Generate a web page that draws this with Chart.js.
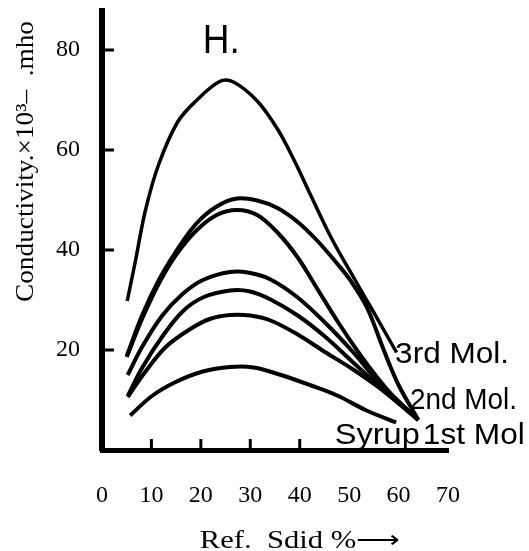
<!DOCTYPE html>
<html><head><meta charset="utf-8">
<script src="https://cdn.jsdelivr.net/npm/chart.js@4"></script>
<style>html,body{margin:0;padding:0;background:#fff}#wrap{width:529px;height:551px}</style>
</head><body><div id="wrap"><canvas id="c" width="529" height="551"></canvas></div>
<script>
// ---- data ----
const xTickValues = [0, 10, 20, 30, 40, 50, 60, 70];
const yTickValues = [20, 40, 60, 80];
const seriesNames = ['3rd Mol. (a)', '3rd Mol. (b)', '2nd Mol. (a)', '2nd Mol. (b)', '1st Mol. (a)', '1st Mol. (b)', 'Syrup'];

const c1x = [5.1, 6.7, 8.8, 11.5, 15.3, 19.0, 23.8, 26.6, 31.4, 35.5, 38.9, 42.3, 46.4, 51.2, 54.7, 59.6];
const c1y = [29.8, 37.5, 48.0, 57.2, 65.6, 69.8, 73.7, 73.6, 69.8, 64.2, 57.9, 50.8, 42.4, 34.0, 28.0, 19.5];

const c2x = [5.0, 8.1, 11.5, 14.9, 19.0, 23.2, 27.3, 31.4, 35.5, 39.6, 43.7, 47.8, 50.2, 53.6, 57.0, 60.0, 64.0];
const c2y = [18.8, 26.9, 34.0, 39.6, 45.2, 48.7, 50.3, 49.9, 48.4, 45.6, 41.7, 37.0, 34.0, 28.5, 20.0, 13.0, 6.0];

const c3x = [5.0, 8.1, 11.5, 14.9, 19.0, 23.2, 27.3, 31.4, 35.5, 39.6, 43.7, 47.8, 51.9, 55.3, 59.1, 64.0];
const c3y = [18.6, 26.2, 33.3, 38.9, 43.8, 47.0, 48.0, 47.0, 43.5, 38.5, 32.0, 25.5, 19.5, 15.0, 10.5, 6.0];

const c4x = [5.2, 8.1, 12.2, 16.3, 20.4, 25.9, 30.0, 34.1, 39.6, 45.1, 50.5, 56.0, 64.0];
const c4y = [15.0, 20.6, 26.9, 31.2, 34.0, 35.6, 35.4, 34.1, 30.5, 25.5, 19.9, 13.6, 6.0];

const c5x = [5.2, 8.1, 12.2, 16.3, 20.4, 25.9, 30.0, 34.1, 39.6, 45.1, 50.5, 56.0, 64.0];
const c5y = [10.8, 16.4, 22.7, 27.7, 30.5, 31.9, 31.7, 30.1, 26.9, 22.7, 17.8, 12.9, 6.0];

const c6x = [5.2, 8.8, 12.9, 17.7, 21.8, 25.9, 30.0, 34.1, 39.6, 45.1, 50.5, 56.0, 64.0];
const c6y = [10.6, 15.7, 20.6, 24.1, 26.2, 27.0, 26.9, 25.9, 23.1, 19.6, 16.3, 12.5, 6.0];

const c7x = [5.7, 10.1, 14.9, 20.4, 25.9, 30.7, 36.2, 42.3, 47.8, 53.3, 59.5];
const c7y = [6.9, 10.8, 13.6, 15.7, 16.6, 16.5, 15.0, 12.9, 10.8, 8.0, 5.5];

// ---- texts placed in value coordinates ----
const notes = [
  {text: 'H.',       x: 20.4, y: 79.4, w: 37},
  {text: '3rd Mol.', x: 59.3, y: 17.4, w: 114},
  {text: '2nd Mol.', x: 62.3, y: 8.2,  w: 107},
  {text: 'Syrup',    x: 47.1, y: 1.2,  w: 85},
  {text: '1st Mol',  x: 64.9, y: 1.2,  w: 102}
];
const yTitle = 'Conductivity.×10³–  .mho';
const xTitle = 'Ref.  Sdid %⟶';

const curvesX = [c1x, c2x, c3x, c4x, c5x, c6x, c7x];
const curvesY = [c1y, c2y, c3y, c4y, c5y, c6y, c7y];

function fitText(ctx, text, x, y, w) {
  const m = ctx.measureText(text).width;
  ctx.save();
  ctx.translate(x, y);
  ctx.scale(w / m, 1);
  ctx.fillText(text, 0, 0);
  ctx.restore();
}

const decor = {
  id: 'decor',
  afterDraw(chart) {
    const {ctx, chartArea: ca, scales: {x, y}} = chart;
    ctx.save();
    ctx.fillStyle = '#000';
    ctx.strokeStyle = '#000';
    ctx.lineWidth = 3;
    // inward tick marks
    yTickValues.forEach(v => {
      const py = y.getPixelForValue(v);
      ctx.beginPath(); ctx.moveTo(ca.left, py); ctx.lineTo(ca.left + 12, py); ctx.stroke();
    });
    [10, 20, 30, 40].forEach(v => {
      const px = x.getPixelForValue(v);
      ctx.beginPath(); ctx.moveTo(px, ca.bottom); ctx.lineTo(px, ca.bottom - 11); ctx.stroke();
    });
    // curve labels and panel letter
    ctx.textAlign = 'left';
    ctx.textBaseline = 'alphabetic';
    notes.forEach((n, i) => {
      ctx.font = (i === 0 ? '40px' : '30px') + ' "Liberation Sans", Arial, sans-serif';
      fitText(ctx, n.text, x.getPixelForValue(n.x), y.getPixelForValue(n.y), n.w);
    });
    // y axis title (rotated)
    ctx.font = '25px "Liberation Serif", "Times New Roman", serif';
    ctx.save();
    ctx.translate(ca.left - 69, ca.bottom - 148);
    ctx.rotate(-Math.PI / 2);
    fitText(ctx, yTitle, 0, 0, 281);
    ctx.restore();
    // x axis title
    ctx.font = '26px "Liberation Serif", "Times New Roman", serif';
    fitText(ctx, xTitle, x.getPixelForValue(19.8), ca.bottom + 98, 200);
    ctx.restore();
  }
};

new Chart(document.getElementById('c'), {
  type: 'line',
  data: {
    datasets: curvesX.map((cx, i) => ({
      label: seriesNames[i],
      data: cx.map((v, j) => ({x: v, y: curvesY[i][j]})),
      borderColor: '#000',
      borderWidth: i === 0 ? 3.5 : 4,
      pointRadius: 0,
      fill: false,
      tension: 0.35
    }))
  },
  options: {
    responsive: false,
    animation: false,
    layout: {padding: {top: 11, right: 81, left: 0, bottom: 0}},
    plugins: {legend: {display: false}, tooltip: {enabled: false}, title: {display: false}},
    scales: {
      x: {
        type: 'linear', min: 0, max: 70,
        afterBuildTicks: s => { s.ticks = xTickValues.map(v => ({value: v})); },
        afterFit: s => { s.height = 101; s.paddingLeft = 0; s.paddingRight = 0; },
        grid: {display: false, drawTicks: false},
        border: {display: true, color: '#000', width: 5},
        ticks: {color: '#000', padding: 31, maxRotation: 0, autoSkip: false,
                font: {family: '"Liberation Serif", "Times New Roman", serif', size: 24},
                callback: v => String(v)}
      },
      y: {
        type: 'linear', min: 0, max: 87.8,
        afterBuildTicks: s => { s.ticks = yTickValues.map(v => ({value: v})); },
        afterFit: s => { s.width = 102; s.paddingTop = 0; s.paddingBottom = 0; },
        grid: {display: false, drawTicks: false},
        border: {display: true, color: '#000', width: 6},
        ticks: {color: '#000', padding: 22,
                font: {family: '"Liberation Serif", "Times New Roman", serif', size: 24},
                callback: v => String(v)}
      }
    }
  },
  plugins: [decor]
});
</script>
</body></html>
